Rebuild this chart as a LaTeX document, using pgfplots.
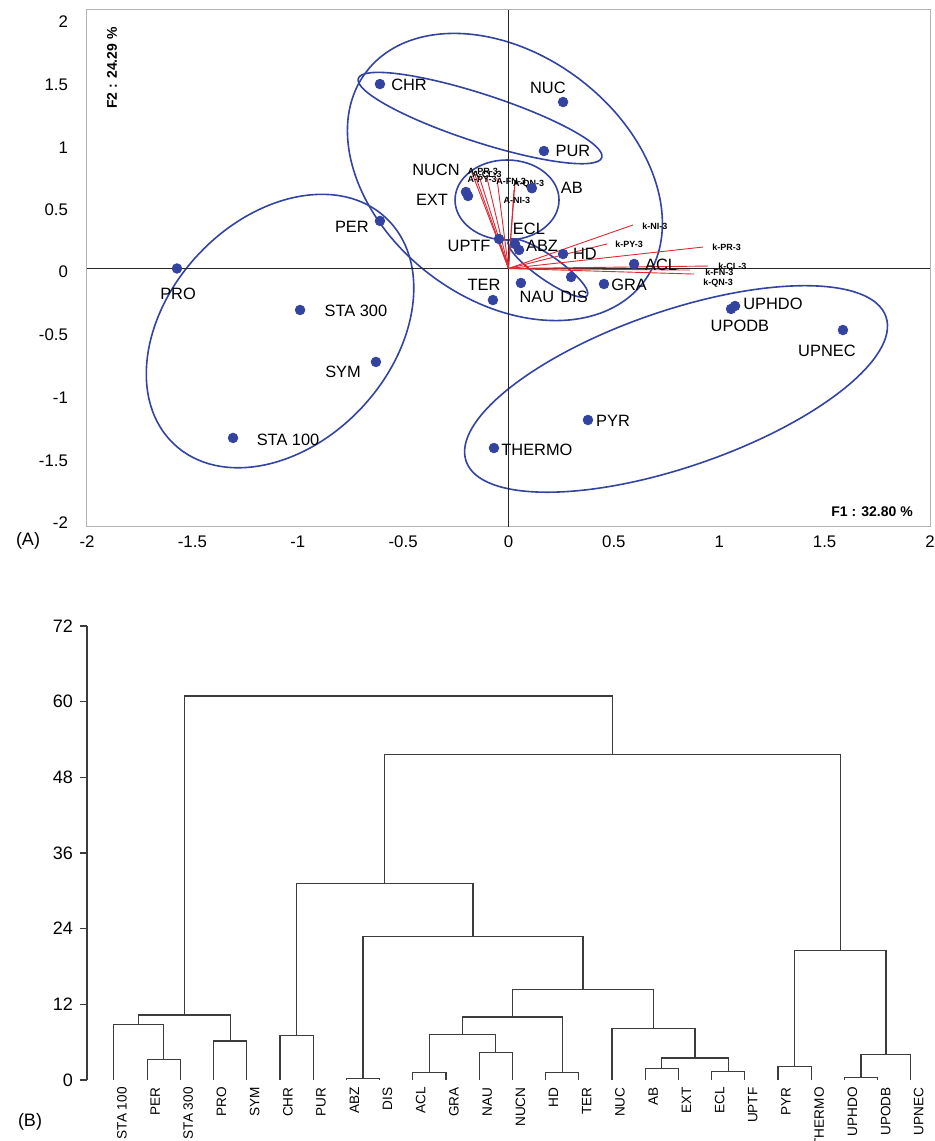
\documentclass[border=0pt]{standalone}
\usepackage{fontspec}
\setmainfont{Liberation Sans}
\usepackage{pgfplots}
\pgfplotsset{compat=1.18}
\definecolor{dotblue}{RGB}{50,68,160}
\definecolor{vecred}{RGB}{222,40,50}
\definecolor{dendro}{RGB}{60,60,60}
\pgfplotsset{dl/.style={dendro, line width=0.6pt, solid, mark=none}}

\pgfplotstableread{
x y
-0.610 1.427
0.259 1.288
0.168 0.909
-0.202 0.592
-0.192 0.561
0.111 0.621
-0.610 0.368
-0.045 0.228
0.031 0.189
0.050 0.143
0.259 0.112
0.297 -0.066
0.059 -0.112
-0.074 -0.244
0.596 0.035
0.453 -0.120
-1.573 0.000
-0.989 -0.321
-0.629 -0.723
-1.307 -1.311
0.377 -1.172
-0.069 -1.389
1.075 -0.290
1.056 -0.313
1.587 -0.476
}\pointsA

\begin{document}
\begin{tikzpicture}[x=1pt,y=1pt]
\path[use as bounding box] (0,0) rectangle (467.5,570.5);

% ---------------- Panel A ----------------
\begin{axis}[
  at={(43.5pt,307pt)}, anchor=south west, scale only axis,
  width=421.5pt, height=258.5pt,
  xmin=-2, xmax=2, ymin=-2, ymax=2,
  xtick={-2,-1.5,-1,-0.5,0,0.5,1,1.5,2},
  ytick={1.907,1.420,0.932,0.453,-0.027,-0.515,-1.002,-1.489,-1.969},
  yticklabels={2,1.5,1,0.5,0,-0.5,-1,-1.5,-2},
  axis line style={gray!60, line width=0.5pt},
  major tick length=0pt,
  tick label style={font=\fontsize{8.4}{10}\selectfont},
  /pgf/number format/assume math mode=true,
  xticklabel style={yshift=-1pt},
  yticklabel style={xshift=-6pt},
  clip=false,
]
% ellipses
\draw[dotblue, line width=0.8pt, rotate around={47:(axis cs:-1.084,-0.484)}] (axis cs:-1.084,-0.484) ellipse [x radius=77.5pt, y radius=56pt];
\draw[dotblue, line width=0.8pt, rotate around={-37:(axis cs:-0.017,0.708)}] (axis cs:-0.017,0.708) ellipse [x radius=87pt, y radius=61.5pt];
\draw[dotblue, line width=0.8pt, rotate around={-18:(axis cs:-0.135,1.164)}] (axis cs:-0.135,1.164) ellipse [x radius=64pt, y radius=12pt];
\draw[dotblue, line width=0.8pt] (axis cs:-0.007,0.530) ellipse [x radius=26pt, y radius=20pt];
\draw[dotblue, line width=0.8pt, rotate around={-35:(axis cs:0.187,0.004)}] (axis cs:0.187,0.004) ellipse [x radius=24pt, y radius=6pt];
\draw[dotblue, line width=0.8pt, rotate around={19:(axis cs:0.795,-0.932)}] (axis cs:0.795,-0.932) ellipse [x radius=111pt, y radius=39pt];
% cross lines
\addplot[gray!30!black, line width=0.7pt] coordinates {(-2,0) (2,0)};
\addplot[gray!30!black, line width=0.7pt] coordinates {(0,-2) (0,2)};
% vectors
\addplot[vecred, line width=0.45pt] coordinates {(0,0) (-0.173,0.739)};
\addplot[vecred, line width=0.45pt] coordinates {(0,0) (-0.159,0.723)};
\addplot[vecred, line width=0.45pt] coordinates {(0,0) (-0.140,0.716)};
\addplot[vecred, line width=0.45pt] coordinates {(0,0) (-0.102,0.700)};
\addplot[vecred, line width=0.45pt] coordinates {(0,0) (-0.055,0.700)};
\addplot[vecred, line width=0.45pt] coordinates {(0,0) (0.026,0.607)};
\addplot[vecred, line width=0.45pt] coordinates {(0,0) (0.031,0.669)};
\addplot[vecred, line width=0.45pt] coordinates {(0,0) (0.591,0.337)};
\addplot[vecred, line width=0.45pt] coordinates {(0,0) (0.467,0.190)};
\addplot[vecred, line width=0.45pt] coordinates {(0,0) (0.923,0.166)};
\addplot[vecred, line width=0.45pt] coordinates {(0,0) (0.947,0.019)};
\addplot[vecred, line width=0.45pt] coordinates {(0,0) (0.861,-0.012)};
\addplot[vecred, line width=0.45pt] coordinates {(0,0) (0.880,-0.043)};
% vector labels
\begin{scope}[every node/.style={font=\fontsize{4.5}{5}\selectfont\bfseries, inner sep=0pt}]
\node at (axis cs:-0.121,0.752) {A-PR-3};
\node at (axis cs:-0.102,0.728) {A-CL-3};
\node at (axis cs:-0.125,0.690) {A-PY-3};
\node at (axis cs:0.012,0.677) {A-FN-3};
\node at (axis cs:0.095,0.652) {A-QN-3};
\node at (axis cs:0.040,0.530) {A-NI-3};
\node[anchor=west] at (axis cs:0.633,0.329) {k-NI-3};
\node[anchor=west] at (axis cs:0.505,0.190) {k-PY-3};
\node[anchor=west] at (axis cs:0.966,0.166) {k-PR-3};
\node[anchor=west] at (axis cs:0.994,0.019) {k-CL-3};
\node[anchor=west] at (axis cs:0.932,-0.027) {k-FN-3};
\node[anchor=west] at (axis cs:0.923,-0.112) {k-QN-3};
\end{scope}
% points
\addplot[only marks, mark=*, mark size=2.4pt, dotblue, mark options={draw=dotblue, fill=dotblue}] table[x=x,y=y] {\pointsA};
% point labels
\begin{scope}[every node/.style={font=\fontsize{8.2}{10}\selectfont, inner sep=0pt}]
\node at (axis cs:-0.472,1.420) {CHR};
\node at (axis cs:0.187,1.397) {NUC};
\node at (axis cs:0.306,0.909) {PUR};
\node at (axis cs:-0.344,0.762) {NUCN};
\node at (axis cs:-0.363,0.530) {EXT};
\node at (axis cs:0.301,0.623) {AB};
\node at (axis cs:0.097,0.306) {ECL};
\node at (axis cs:0.159,0.174) {ABZ};
\node at (axis cs:-0.187,0.174) {UPTF};
\node at (axis cs:0.363,0.112) {HD};
\node at (axis cs:-0.116,-0.128) {TER};
\node at (axis cs:0.135,-0.221) {NAU};
\node at (axis cs:0.311,-0.221) {DIS};
\node at (axis cs:0.724,0.027) {ACL};
\node at (axis cs:0.572,-0.128) {GRA};
\node at (axis cs:-0.743,0.321) {PER};
\node at (axis cs:-1.568,-0.197) {PRO};
\node at (axis cs:-0.724,-0.329) {STA 300};
\node at (axis cs:-0.785,-0.801) {SYM};
\node at (axis cs:-1.046,-1.327) {STA 100};
\node at (axis cs:0.496,-1.180) {PYR};
\node at (axis cs:0.135,-1.404) {THERMO};
\node at (axis cs:1.255,-0.275) {UPHDO};
\node at (axis cs:1.098,-0.445) {UPODB};
\node at (axis cs:1.511,-0.638) {UPNEC};
\end{scope}
\node[rotate=90, font=\fontsize{7}{8}\selectfont\bfseries] at (axis cs:-1.881,1.551) {F2 : 24.29 \%};
\node[font=\fontsize{7}{8}\selectfont\bfseries] at (axis cs:1.725,-1.884) {F1 : 32.80 \%};
\end{axis}
\node[font=\fontsize{9}{10}\selectfont] at (14,300) {(A)};

% ---------------- Panel B ----------------
\begin{axis}[
  at={(43.5pt,30.5pt)}, anchor=south west, scale only axis,
  width=420.2pt, height=227pt,
  xmin=-0.81, xmax=24.5, ymin=0, ymax=72,
  axis y line*=left, axis x line*=bottom,
  x axis line style={draw=none},
  y axis line style={dendro, line width=0.6pt},
  xtick={0,1,...,24},
  xticklabels={STA 100, PER, STA 300, PRO, SYM, CHR, PUR, ABZ, DIS, ACL, GRA, NAU, NUCN, HD, TER, NUC, AB, EXT, ECL, UPTF, PYR, THERMO, UPHDO, UPODB, UPNEC},
  xtick style={draw=none},
  xticklabel style={rotate=90, anchor=east, font=\fontsize{6.8}{8}\selectfont, inner sep=0pt, yshift=-4pt},
  ytick={0,12,24,36,48,60,72},
  ytick style={dendro, line width=0.6pt},
  tick align=outside, major tick length=3.5pt,
  yticklabel style={font=\fontsize{9}{10}\selectfont},
  /pgf/number format/assume math mode=true,
  clip=false,
]
\addplot[dl] coordinates {(1,0)(1,3.3)(2,3.3)(2,0)};
\addplot[dl] coordinates {(0,0)(0,8.8)(1.5,8.8)(1.5,3.3)};
\addplot[dl] coordinates {(3,0)(3,6.2)(4,6.2)(4,0)};
\addplot[dl] coordinates {(0.75,8.8)(0.75,10.3)(3.5,10.3)(3.5,6.2)};
\addplot[dl] coordinates {(5,0)(5,7.0)(6,7.0)(6,0)};
\addplot[dl] coordinates {(7,0)(7,0.3)(8,0.3)(8,0)};
\addplot[dl] coordinates {(9,0)(9,1.2)(10,1.2)(10,0)};
\addplot[dl] coordinates {(11,0)(11,4.3)(12,4.3)(12,0)};
\addplot[dl] coordinates {(9.5,1.2)(9.5,7.2)(11.5,7.2)(11.5,4.3)};
\addplot[dl] coordinates {(13,0)(13,1.2)(14,1.2)(14,0)};
\addplot[dl] coordinates {(10.5,7.2)(10.5,10.0)(13.5,10.0)(13.5,1.2)};
\addplot[dl] coordinates {(16,0)(16,1.85)(17,1.85)(17,0)};
\addplot[dl] coordinates {(18,0)(18,1.4)(19,1.4)(19,0)};
\addplot[dl] coordinates {(16.5,1.85)(16.5,3.5)(18.5,3.5)(18.5,1.4)};
\addplot[dl] coordinates {(15,0)(15,8.2)(17.5,8.2)(17.5,3.5)};
\addplot[dl] coordinates {(12,10.0)(12,14.3)(16.25,14.3)(16.25,8.2)};
\addplot[dl] coordinates {(7.5,0.3)(7.5,22.7)(14.125,22.7)(14.125,14.3)};
\addplot[dl] coordinates {(5.5,7.0)(5.5,31.2)(10.8125,31.2)(10.8125,22.7)};
\addplot[dl] coordinates {(20,0)(20,2.2)(21,2.2)(21,0)};
\addplot[dl] coordinates {(22,0)(22,0.4)(23,0.4)(23,0)};
\addplot[dl] coordinates {(22.5,0.4)(22.5,4.0)(24,4.0)(24,0)};
\addplot[dl] coordinates {(20.5,2.2)(20.5,20.5)(23.25,20.5)(23.25,4.0)};
\addplot[dl] coordinates {(8.156,31.2)(8.156,51.6)(21.875,51.6)(21.875,20.5)};
\addplot[dl] coordinates {(2.125,10.3)(2.125,60.9)(15.016,60.9)(15.016,51.6)};
\end{axis}
\node[font=\fontsize{9}{10}\selectfont] at (15,9.5) {(B)};
\end{tikzpicture}
\end{document}
